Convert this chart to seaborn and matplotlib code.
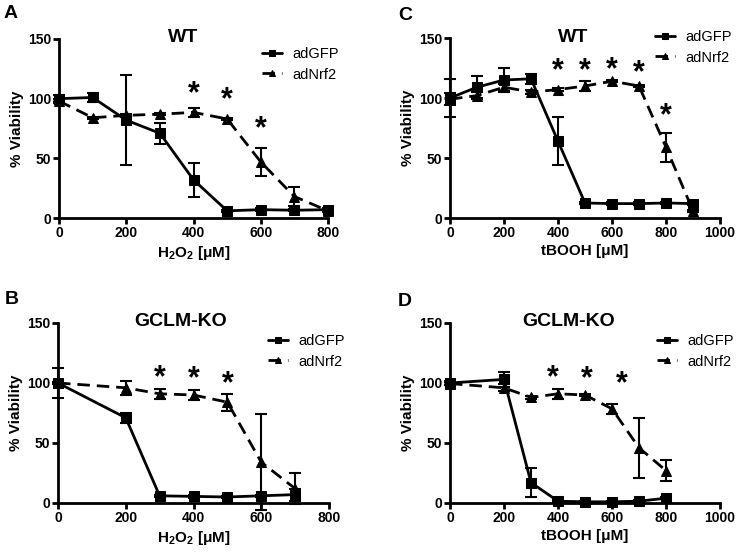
import numpy as np
import pandas as pd
import matplotlib
matplotlib.use("Agg")
import matplotlib.pyplot as plt
import seaborn as sns

sns.set_theme(style="ticks")
plt.rcParams['font.family'] = ['Liberation Sans', 'DejaVu Sans']
plt.rcParams['mathtext.fontset'] = 'custom'
plt.rcParams['mathtext.rm'] = 'Liberation Sans:bold'
plt.rcParams['mathtext.bf'] = 'Liberation Sans:bold'
plt.rcParams['text.color'] = 'black'
plt.rcParams['axes.labelcolor'] = 'black'
plt.rcParams['xtick.color'] = 'black'
plt.rcParams['ytick.color'] = 'black'

# ---- Data ----
# Panel A: WT, H2O2
a_x = [0, 100, 200, 300, 400, 500, 600, 700, 800]
a_gfp = [100, 101, 82, 71, 32, 6, 7, 6.5, 7]
a_gfp_err = [3, 4, 38, 9, 14, 1, 1, 1, 1]
a_nrf = [98, 84, 86, 87, 88.5, 83, 47, 18, 6]
a_nrf_err = [2, 1, 1, 1, 4, 1, 12, 8, 1]
a_star_x = [400, 500, 600]
a_star_y = [104, 99, 74]

# Panel C: WT, tBOOH
c_x = [0, 100, 200, 300, 400, 500, 600, 700, 800, 900]
c_gfp = [100, 109, 115, 116, 64, 12.5, 12, 12, 12.5, 12]
c_gfp_err = [15.5, 9, 10, 4, 20, 1, 1, 1, 1, 1]
c_nrf = [99, 102, 109, 105, 107, 110, 114, 110, 59, 6]
c_nrf_err = [5, 3, 3, 2, 1, 4, 1, 1, 12, 1]
c_star_x = [400, 500, 600, 700, 800]
c_star_y = [122, 122, 123, 121, 85]

# Panel B: GCLM-KO, H2O2
b_x = [0, 200, 300, 400, 500, 600, 700]
b_gfp = [100, 71, 6, 5.5, 5, 6, 7]
b_gfp_err = [12.5, 4, 1, 1, 1, 1, 5]
b_nrf = [100, 96, 91, 90, 84, 34, 12]
b_nrf_err = [1, 6, 4, 4, 7, 40, 13]
b_star_x = [300, 400, 500]
b_star_y = [104, 103, 99]

# Panel D: GCLM-KO, tBOOH
d_x = [0, 200, 300, 400, 500, 600, 700, 800]
d_gfp = [100, 103, 17, 1.5, 1, 1, 1.5, 4]
d_gfp_err = [2, 6, 12, 1, 1, 1, 1, 1]
d_nrf = [99.5, 96, 88, 91, 90, 78.5, 46, 27]
d_nrf_err = [1, 3, 1, 4, 1, 4, 25, 9]
d_star_x = [380, 505, 635]
d_star_y = [104, 103, 99]

panels = [
    dict(letter="A", title="WT", xlabel=r"H$_\mathbf{2}$O$_\mathbf{2}$ [μM]", xmax=800,
         xticks=[0, 200, 400, 600, 800], x=a_x, gfp=a_gfp, gfpe=a_gfp_err, nrf=a_nrf,
         nrfe=a_nrf_err, sx=a_star_x, sy=a_star_y,
         rect=(59, 39, 328, 218), title_xy=(183, 38), leg_xy=(262, 47), let_xy=(4, 14)),
    dict(letter="C", title="WT", xlabel="tBOOH [μM]", xmax=1000,
         xticks=[0, 200, 400, 600, 800, 1000], x=c_x, gfp=c_gfp, gfpe=c_gfp_err, nrf=c_nrf,
         nrfe=c_nrf_err, sx=c_star_x, sy=c_star_y,
         rect=(450, 38, 720, 218), title_xy=(573, 38), leg_xy=(655, 30), let_xy=(398, 15)),
    dict(letter="B", title="GCLM-KO", xlabel=r"H$_\mathbf{2}$O$_\mathbf{2}$ [μM]", xmax=800,
         xticks=[0, 200, 400, 600, 800], x=b_x, gfp=b_gfp, gfpe=b_gfp_err, nrf=b_nrf,
         nrfe=b_nrf_err, sx=b_star_x, sy=b_star_y,
         rect=(58, 323, 329, 503), title_xy=(181, 322), leg_xy=(268, 334), let_xy=(5, 300)),
    dict(letter="D", title="GCLM-KO", xlabel="tBOOH [μM]", xmax=1000,
         xticks=[0, 200, 400, 600, 800, 1000], x=d_x, gfp=d_gfp, gfpe=d_gfp_err, nrf=d_nrf,
         nrfe=d_nrf_err, sx=d_star_x, sy=d_star_y,
         rect=(450, 323, 720, 503), title_xy=(569, 322), leg_xy=(657, 334), let_xy=(398, 301)),
]

W, H = 740, 553
fig = plt.figure(figsize=(W / 100, H / 100), dpi=100)

for p in panels:
    l, t, r, b = p["rect"]
    ax = fig.add_axes([l / W, 1 - b / H, (r - l) / W, (b - t) / H])
    df = pd.DataFrame({
        "dose": list(p["x"]) * 2,
        "viability": list(p["gfp"]) + list(p["nrf"]),
        "err": list(p["gfpe"]) + list(p["nrfe"]),
        "group": ["adGFP"] * len(p["x"]) + ["adNrf2"] * len(p["x"]),
    })
    # error bars
    for g in ["adGFP", "adNrf2"]:
        sub = df[df.group == g]
        ax.errorbar(sub.dose, sub.viability, yerr=sub.err, fmt="none", ecolor="black",
                    elinewidth=1.5, capsize=4, capthick=1.5, clip_on=False, zorder=3)
    sns.lineplot(data=df, x="dose", y="viability", style="group",
                 markers={"adGFP": "s", "adNrf2": "^"},
                 dashes={"adGFP": "", "adNrf2": (4.5, 2.5)},
                 color="black", linewidth=2, markersize=6.5, markeredgecolor="black",
                 ax=ax, clip_on=False, zorder=4, legend=True)
    ax.set_xlim(0, p["xmax"])
    ax.set_ylim(0, 150)
    ax.set_xticks(p["xticks"])
    ax.set_yticks([0, 50, 100, 150])
    for s in ["top", "right"]:
        ax.spines[s].set_visible(False)
    for s in ["left", "bottom"]:
        ax.spines[s].set_linewidth(2)
        ax.spines[s].set_color("black")
    ax.tick_params(axis="both", direction="out", width=2, length=4, colors="black",
                   labelsize=10, pad=1.5)
    for lab in ax.get_xticklabels() + ax.get_yticklabels():
        lab.set_fontweight("bold")
    ax.set_xlabel(p["xlabel"], fontsize=11, fontweight="bold", labelpad=3)
    ax.set_ylabel("% Viability", fontsize=11, fontweight="bold", labelpad=3)
    tx, ty = p["title_xy"]
    fig.text(tx / W, 1 - ty / H, p["title"], ha="center", va="center",
             fontsize=14, fontweight="bold")
    for sx, sy in zip(p["sx"], p["sy"]):
        ax.text(sx, sy, "*", ha="center", va="center", fontsize=22, fontweight="bold",
                color="black")
    lx, ly = p["leg_xy"]
    ax.legend(loc="upper left", bbox_to_anchor=(lx / W, 1 - ly / H),
              bbox_transform=fig.transFigure, frameon=False, markerscale=0.7,
              fontsize=10.5, handlelength=1.4, handletextpad=0.7, labelspacing=0.45,
              borderaxespad=0, borderpad=0)
    ex, ey = p["let_xy"]
    fig.text(ex / W, 1 - ey / H, p["letter"], ha="left", va="center",
             fontsize=14, fontweight="bold")

fig.savefig("out.png", dpi=100)
